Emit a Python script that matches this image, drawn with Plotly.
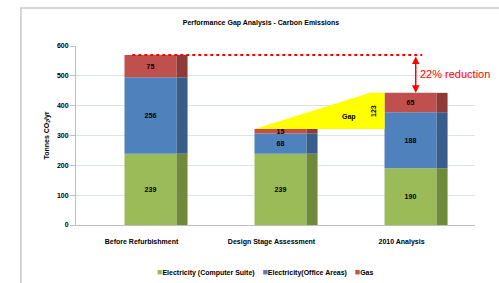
import plotly.graph_objects as go

categories = ["Before Refurbishment", "Design Stage Assessment", "2010 Analysis"]
elec_computer = [239, 239, 190]
elec_office = [256, 68, 188]
gas = [75, 15, 65]
gap_label = "123"
reduction_label = "22% reduction"
series_names = ["Electricity (Computer Suite)", "Electricity(Office Areas)", "Gas"]
y_ticks = [0, 100, 200, 300, 400, 500, 600]

front_colors = ["#9bbb59", "#4f81bd", "#c0504d"]
side_colors = ["#6f8a3a", "#385d8a", "#8e3a38"]
FONT = "Liberation Sans"
SMALL = dict(family=FONT, size=7, color="black", weight="bold")

idx = list(range(len(categories)))
series = [elec_computer, elec_office, gas]
bases = []
cum = [0] * len(categories)
for s in series:
    bases.append(list(cum))
    cum = [c + v for c, v in zip(cum, s)]
totals = cum

fig = go.Figure()
BW = 0.4
SW = 0.085
for k, (s, b) in enumerate(zip(series, bases)):
    fig.add_trace(go.Bar(
        x=idx, y=s, base=b, width=BW, offset=-BW / 2,
        marker=dict(color=front_colors[k], line=dict(width=0)),
        name=series_names[k],
        text=[str(v) for v in s], textposition="inside", insidetextanchor="middle",
        constraintext="none", textangle=0,
        textfont=SMALL,
        showlegend=False,
    ))
    fig.add_trace(go.Bar(
        x=idx, y=s, base=b, width=SW, offset=BW / 2,
        marker=dict(color=side_colors[k], line=dict(width=0)),
        showlegend=False, hoverinfo="skip",
    ))

# Gap wedge between design stage and 2010
x_left = 1 - BW / 2
x_right = 2 - BW / 2
fig.add_trace(go.Scatter(
    x=[x_left, x_right - 0.11, x_right, x_right, x_left],
    y=[totals[1], totals[2], totals[2], totals[1], totals[1]],
    fill="toself", fillcolor="#ffff00", line=dict(width=0), mode="lines",
    showlegend=False, hoverinfo="skip",
))

# Dotted reference line at original total
fig.add_trace(go.Scatter(
    x=[-0.14, 2.09], y=[totals[0], totals[0]], mode="lines",
    line=dict(color="#ff0000", width=2, dash="dot"),
    showlegend=False, hoverinfo="skip",
))

fig.update_layout(barmode="overlay")

legend_text = "    ".join(
    f'<span style="color:{c};font-size:9px">■</span>{n}' for c, n in zip(front_colors, series_names)
)

annotations = [
    dict(x=1.53, y=totals[1] + (totals[2] - totals[1]) * 0.33, text="Gap", showarrow=False,
         font=SMALL),
    dict(x=1.72, y=(totals[1] + totals[2]) / 2, text=gap_label, showarrow=False, textangle=-90,
         font=SMALL),
    dict(x=2.04, y=totals[2], ax=2.04, ay=totals[0], xref="x", yref="y", axref="x", ayref="y",
         text="", showarrow=True, arrowhead=2, arrowside="end+start", arrowsize=1,
         arrowwidth=1.5, arrowcolor="#ff0000"),
    dict(x=2.06, y=(totals[0] + totals[2]) / 2, text=reduction_label, showarrow=False,
         xanchor="left", font=dict(family=FONT, size=11, color="#ff0000")),
    dict(x=-0.09, y=0.5, xref="paper", yref="paper", text="Tonnes CO<sub>2</sub>/yr",
         showarrow=False, textangle=-90, font=SMALL),
    dict(x=0.476, y=-0.26, xref="paper", yref="paper", text=legend_text, showarrow=False,
         xanchor="center", yanchor="middle", font=SMALL),
]

fig.update_layout(
    width=499, height=283,
    margin=dict(l=76, r=24, t=46, b=58),
    paper_bgcolor="white", plot_bgcolor="white",
    title=dict(text="Performance Gap Analysis - Carbon Emissions", x=0.523, y=0.922,
               xanchor="center", yanchor="middle", font=SMALL),
    xaxis=dict(range=[-0.573, 2.496], tickvals=idx, ticktext=categories, ticklabelshift=-9,
               ticklabelstandoff=10,
               showgrid=False, zeroline=False, showline=True, linecolor="#bfbfbf",
               ticks="", tickfont=SMALL),
    yaxis=dict(range=[0, 600], tickvals=y_ticks, showgrid=True, gridcolor="#dde3ec",
               zeroline=False, showline=True, linecolor="#bfbfbf", ticks="outside",
               ticklen=5, tickcolor="#bfbfbf", tickfont=SMALL),
    annotations=annotations,
    shapes=[dict(type="rect", xref="paper", yref="paper", x0=-0.138, x1=1.09,
                 y0=-0.4, y1=1.212, line=dict(color="#c8c8c8", width=1.5), layer="below")],
    showlegend=False,
)

fig.write_html("out.html", config={"displayModeBar": False},
               post_script="document.body.style.margin='0';")
